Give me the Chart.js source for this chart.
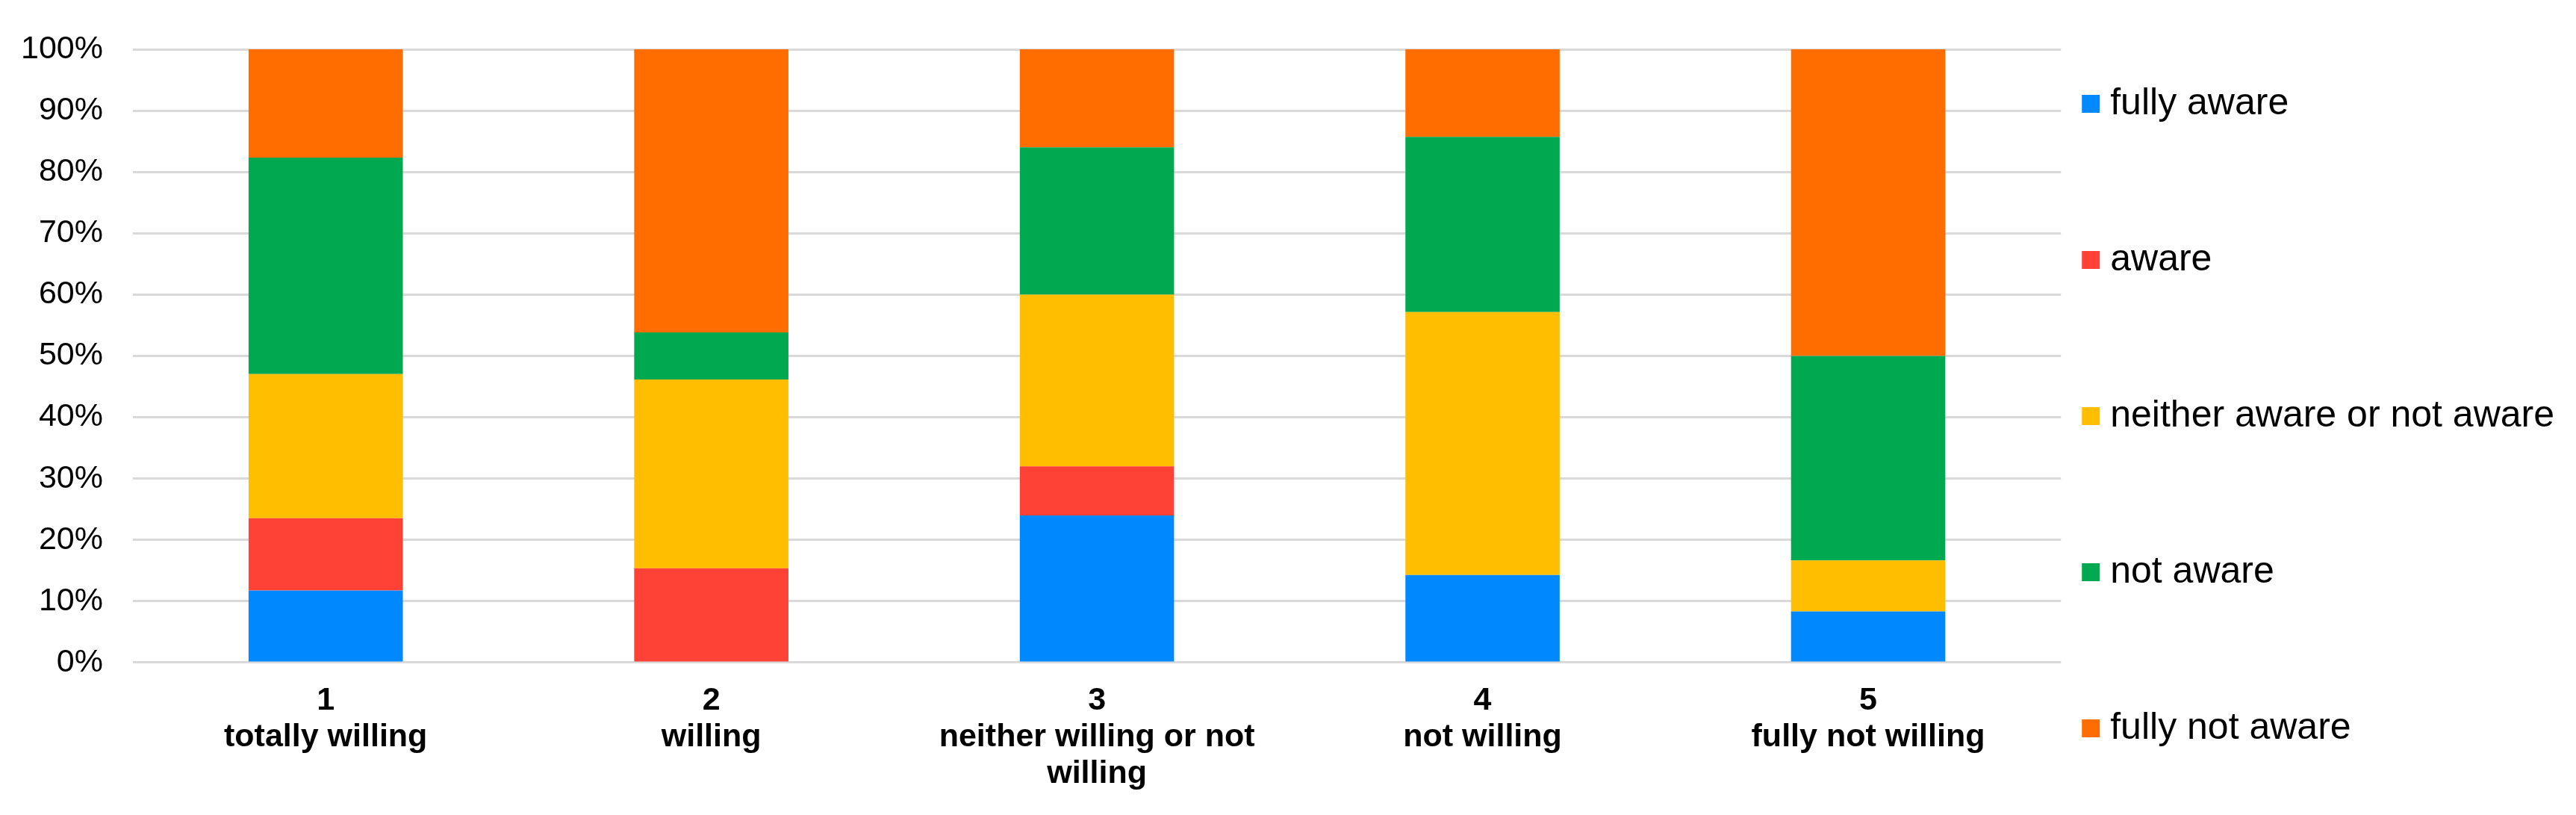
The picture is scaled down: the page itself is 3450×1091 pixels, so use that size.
<!DOCTYPE html>
<html>
<head>
<meta charset="utf-8">
<script src="https://cdn.jsdelivr.net/npm/chart.js@4/dist/chart.umd.min.js"></script>
<style>
  html, body { margin: 0; padding: 0; background: #fff; }
  #wrap { width: 3450px; height: 1091px; }
</style>
</head>
<body>
<div id="wrap"><canvas id="chart"></canvas></div>
<script>
// categories (multi-line labels)
const categories = [
  ["1", "totally willing"],
  ["2", "willing"],
  ["3", "neither willing or not", "willing"],
  ["4", "not willing"],
  ["5", "fully not willing"]
];

// series values, in percent of each column
const fullyAware    = [11.76,  0.00, 24.00, 14.29,  8.33];
const aware         = [11.76, 15.38,  8.00,  0.00,  0.00];
const neitherAware  = [23.53, 30.77, 28.00, 42.86,  8.33];
const notAware      = [35.29,  7.69, 24.00, 28.57, 33.33];
const fullyNotAware = [17.65, 46.15, 16.00, 14.29, 50.00];

const seriesNames = ["fully aware", "aware", "neither aware or not aware", "not aware", "fully not aware"];
const seriesColors = ["#0088ff", "#ff4136", "#ffbf00", "#00a84f", "#ff6d00"];

// y ticks
const yTicks = [0, 10, 20, 30, 40, 50, 60, 70, 80, 90, 100];

const FONT = "'Liberation Sans', Arial, sans-serif";

const seriesData = [fullyAware, aware, neitherAware, notAware, fullyNotAware];

new Chart(document.getElementById("chart"), {
  type: "bar",
  data: {
    labels: categories,
    datasets: seriesData.map((d, i) => ({
      label: seriesNames[i],
      data: d,
      backgroundColor: seriesColors[i],
      borderWidth: 0,
      categoryPercentage: 1,
      barPercentage: 0.4
    }))
  },
  options: {
    responsive: true,
    maintainAspectRatio: false,
    animation: false,
    layout: { padding: { top: 0, right: 19, bottom: 30, left: 28 } },
    scales: {
      x: {
        stacked: true,
        // invisible ticks give the gap under the plot
        grid: { display: true, drawOnChartArea: false, drawTicks: true, tickLength: 27, color: "transparent", tickColor: "transparent" },
        border: { display: false },
        ticks: {
          color: "#000",
          padding: 0,
          maxRotation: 0,
          autoSkip: false,
          font: { family: FONT, size: 43, weight: "bold", lineHeight: 1.14 }
        }
      },
      y: {
        stacked: true,
        min: 0,
        max: 100,
        afterBuildTicks: axis => { axis.ticks = yTicks.map(v => ({ value: v })); },
        grid: { color: "#d9d9d9", lineWidth: 3, drawTicks: true, tickLength: 40, tickColor: "transparent" },
        border: { display: false },
        ticks: {
          color: "#000",
          padding: 0,
          font: { family: FONT, size: 43 },
          callback: v => v + "%"
        }
      }
    },
    plugins: {
      tooltip: { enabled: false },
      // empty spacer above the plot area
      title: {
        display: true,
        text: "",
        fullSize: false,
        padding: 0,
        font: { size: 66, lineHeight: 1 }
      },
      legend: {
        position: "right",
        align: "start",
        title: { display: true, text: "", padding: 0, font: { size: 75, lineHeight: 1 } },
        labels: {
          color: "#000",
          usePointStyle: true,
          pointStyle: "rect",
          boxWidth: 2,
          boxHeight: 24,
          padding: 39,
          font: { family: FONT, size: 50, lineHeight: "170px" },
          // single-line arrays so each entry takes the tall line height
          generateLabels(chart) {
            const items = Chart.defaults.plugins.legend.labels.generateLabels(chart);
            items.forEach((it, i) => { if (i < items.length - 1) it.text = [it.text]; });
            return items;
          }
        }
      }
    }
  }
});
</script>
</body>
</html>
